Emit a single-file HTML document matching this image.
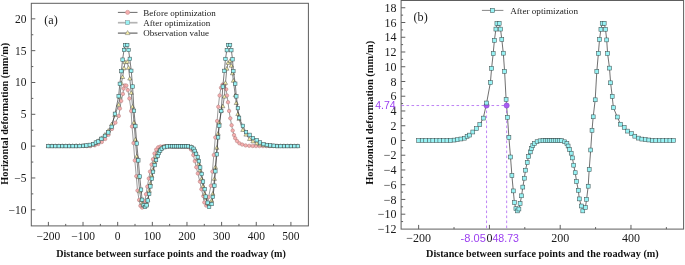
<!DOCTYPE html>
<html><head><meta charset="utf-8"><style>
html,body{margin:0;padding:0;background:#fff;}
body{width:685px;height:265px;overflow:hidden;}
svg{display:block;filter:blur(0.35px);}
.tk{font-family:"Liberation Serif",serif;font-size:11.5px;fill:#1a1a1a;}
.tk2{font-family:"Liberation Serif",serif;font-size:12px;fill:#1a1a1a;}
.lab{font-family:"Liberation Serif",serif;font-size:10px;font-weight:bold;fill:#111;}
.lg{font-family:"Liberation Serif",serif;font-size:9px;fill:#1a1a1a;}
.pv{font-family:"Liberation Sans",sans-serif;font-size:10.5px;fill:#9b3ff0;}
</style></head><body>
<svg width="685" height="265" viewBox="0 0 685 265">
<rect width="685" height="265" fill="#fff"/>
<rect x="31.3" y="3.3" width="277.09999999999997" height="222.6" fill="none" stroke="#5e5e5e" stroke-width="1.0"/><path d="M48.39,225.9v-4.0M65.71,225.9v-2.0M83.03,225.9v-4.0M100.36,225.9v-2.0M117.68,225.9v-4.0M135.00,225.9v-2.0M152.33,225.9v-4.0M169.65,225.9v-2.0M186.97,225.9v-4.0M204.30,225.9v-2.0M221.62,225.9v-4.0M238.94,225.9v-2.0M256.26,225.9v-4.0M273.59,225.9v-2.0M290.91,225.9v-4.0M31.3,209.79h4.0M31.3,193.88h2.0M31.3,177.96h4.0M31.3,162.05h2.0M31.3,146.14h4.0M31.3,130.23h2.0M31.3,114.31h4.0M31.3,98.40h2.0M31.3,82.49h4.0M31.3,66.58h2.0M31.3,50.66h4.0M31.3,34.75h2.0M31.3,18.84h4.0" stroke="#5e5e5e" stroke-width="1" fill="none"/><text x="26.6" y="213.69" text-anchor="end" class="tk">−10</text><text x="26.6" y="181.86" text-anchor="end" class="tk">−5</text><text x="26.6" y="150.04" text-anchor="end" class="tk">0</text><text x="26.6" y="118.21" text-anchor="end" class="tk">5</text><text x="26.6" y="86.39" text-anchor="end" class="tk">10</text><text x="26.6" y="54.56" text-anchor="end" class="tk">15</text><text x="26.6" y="22.74" text-anchor="end" class="tk">20</text><text x="48.39" y="239.7" text-anchor="middle" class="tk">−200</text><text x="83.03" y="239.7" text-anchor="middle" class="tk">−100</text><text x="117.68" y="239.7" text-anchor="middle" class="tk">0</text><text x="152.33" y="239.7" text-anchor="middle" class="tk">100</text><text x="186.97" y="239.7" text-anchor="middle" class="tk">200</text><text x="221.62" y="239.7" text-anchor="middle" class="tk">300</text><text x="256.26" y="239.7" text-anchor="middle" class="tk">400</text><text x="290.91" y="239.7" text-anchor="middle" class="tk">500</text><text x="56.3" y="256.6" class="lab" textLength="229.5" lengthAdjust="spacingAndGlyphs">Distance between surface points and the roadway (m)</text><text transform="translate(7.8,184.7) rotate(-90)" class="lab" textLength="141.8" lengthAdjust="spacingAndGlyphs">Horizontal deformation (mm/m)</text><text x="44.3" y="23.8" class="tk" style="font-size:12px" textLength="13.5" lengthAdjust="spacingAndGlyphs">(a)</text>
<polyline points="48.70,146.10 52.16,146.10 55.63,146.10 59.09,146.10 62.55,146.10 66.02,146.10 69.48,146.10 72.94,146.10 76.40,146.10 79.87,146.10 83.33,146.10 86.79,146.10 90.26,146.10 94.80,145.30 98.30,144.00 101.80,142.00 105.20,139.00 108.50,134.80 112.00,128.90 115.40,122.70 118.80,115.90 119.90,108.50 121.20,100.90 122.90,93.90 123.60,88.60 124.80,85.50 126.30,85.60 127.80,90.10 129.40,98.50 131.10,111.00 132.00,126.40 133.50,143.10 134.80,160.40 136.30,176.20 137.50,190.60 139.10,200.00 140.40,205.80 142.10,207.60 143.60,205.50 145.00,201.20 146.00,194.20 147.30,186.60 148.80,178.50 150.00,171.60 151.60,164.60 153.00,159.20 154.50,153.50 156.20,149.60 158.20,147.30 160.50,146.50 163.50,146.30 166.50,146.30 169.50,146.30 172.50,146.30 175.50,146.30 178.50,146.30 181.50,146.30 184.50,146.30 187.50,146.30 188.50,146.80 191.00,149.50 193.30,155.10 194.80,161.10 196.30,167.20 197.80,173.40 199.90,181.60 201.40,189.20 203.30,196.10 204.30,202.40 206.20,205.60 207.60,203.50 208.60,197.10 210.90,185.80 212.40,171.60 213.80,155.00 215.30,137.40 217.10,121.10 218.30,106.80 219.60,95.50 221.00,87.80 222.60,84.60 224.40,85.20 226.20,89.30 227.00,95.50 228.00,102.20 229.10,111.00 230.30,118.30 231.60,125.20 232.70,130.60 234.00,135.10 235.20,138.20 237.00,141.10 239.40,143.30 242.20,144.60 245.60,145.40 249.20,145.80 252.70,146.00 256.00,146.10 259.46,146.10 262.93,146.10 266.39,146.10 269.85,146.10 273.32,146.10 276.78,146.10 280.24,146.10 283.70,146.10 287.17,146.10 290.63,146.10 294.09,146.10 297.56,146.10" fill="none" stroke="#555" stroke-width="0.6"/><g fill="#f5aeae" stroke="#b07a7a" stroke-width="0.5"><circle cx="48.70" cy="146.10" r="1.75"/><circle cx="52.16" cy="146.10" r="1.75"/><circle cx="55.63" cy="146.10" r="1.75"/><circle cx="59.09" cy="146.10" r="1.75"/><circle cx="62.55" cy="146.10" r="1.75"/><circle cx="66.02" cy="146.10" r="1.75"/><circle cx="69.48" cy="146.10" r="1.75"/><circle cx="72.94" cy="146.10" r="1.75"/><circle cx="76.40" cy="146.10" r="1.75"/><circle cx="79.87" cy="146.10" r="1.75"/><circle cx="83.33" cy="146.10" r="1.75"/><circle cx="86.79" cy="146.10" r="1.75"/><circle cx="90.26" cy="146.10" r="1.75"/><circle cx="94.80" cy="145.30" r="1.75"/><circle cx="98.30" cy="144.00" r="1.75"/><circle cx="101.80" cy="142.00" r="1.75"/><circle cx="105.20" cy="139.00" r="1.75"/><circle cx="108.50" cy="134.80" r="1.75"/><circle cx="112.00" cy="128.90" r="1.75"/><circle cx="115.40" cy="122.70" r="1.75"/><circle cx="118.80" cy="115.90" r="1.75"/><circle cx="119.90" cy="108.50" r="1.75"/><circle cx="121.20" cy="100.90" r="1.75"/><circle cx="122.90" cy="93.90" r="1.75"/><circle cx="123.60" cy="88.60" r="1.75"/><circle cx="124.80" cy="85.50" r="1.75"/><circle cx="126.30" cy="85.60" r="1.75"/><circle cx="127.80" cy="90.10" r="1.75"/><circle cx="129.40" cy="98.50" r="1.75"/><circle cx="131.10" cy="111.00" r="1.75"/><circle cx="132.00" cy="126.40" r="1.75"/><circle cx="133.50" cy="143.10" r="1.75"/><circle cx="134.80" cy="160.40" r="1.75"/><circle cx="136.30" cy="176.20" r="1.75"/><circle cx="137.50" cy="190.60" r="1.75"/><circle cx="139.10" cy="200.00" r="1.75"/><circle cx="140.40" cy="205.80" r="1.75"/><circle cx="142.10" cy="207.60" r="1.75"/><circle cx="143.60" cy="205.50" r="1.75"/><circle cx="145.00" cy="201.20" r="1.75"/><circle cx="146.00" cy="194.20" r="1.75"/><circle cx="147.30" cy="186.60" r="1.75"/><circle cx="148.80" cy="178.50" r="1.75"/><circle cx="150.00" cy="171.60" r="1.75"/><circle cx="151.60" cy="164.60" r="1.75"/><circle cx="153.00" cy="159.20" r="1.75"/><circle cx="154.50" cy="153.50" r="1.75"/><circle cx="156.20" cy="149.60" r="1.75"/><circle cx="158.20" cy="147.30" r="1.75"/><circle cx="160.50" cy="146.50" r="1.75"/><circle cx="163.50" cy="146.30" r="1.75"/><circle cx="166.50" cy="146.30" r="1.75"/><circle cx="169.50" cy="146.30" r="1.75"/><circle cx="172.50" cy="146.30" r="1.75"/><circle cx="175.50" cy="146.30" r="1.75"/><circle cx="178.50" cy="146.30" r="1.75"/><circle cx="181.50" cy="146.30" r="1.75"/><circle cx="184.50" cy="146.30" r="1.75"/><circle cx="187.50" cy="146.30" r="1.75"/><circle cx="188.50" cy="146.80" r="1.75"/><circle cx="191.00" cy="149.50" r="1.75"/><circle cx="193.30" cy="155.10" r="1.75"/><circle cx="194.80" cy="161.10" r="1.75"/><circle cx="196.30" cy="167.20" r="1.75"/><circle cx="197.80" cy="173.40" r="1.75"/><circle cx="199.90" cy="181.60" r="1.75"/><circle cx="201.40" cy="189.20" r="1.75"/><circle cx="203.30" cy="196.10" r="1.75"/><circle cx="204.30" cy="202.40" r="1.75"/><circle cx="206.20" cy="205.60" r="1.75"/><circle cx="207.60" cy="203.50" r="1.75"/><circle cx="208.60" cy="197.10" r="1.75"/><circle cx="210.90" cy="185.80" r="1.75"/><circle cx="212.40" cy="171.60" r="1.75"/><circle cx="213.80" cy="155.00" r="1.75"/><circle cx="215.30" cy="137.40" r="1.75"/><circle cx="217.10" cy="121.10" r="1.75"/><circle cx="218.30" cy="106.80" r="1.75"/><circle cx="219.60" cy="95.50" r="1.75"/><circle cx="221.00" cy="87.80" r="1.75"/><circle cx="222.60" cy="84.60" r="1.75"/><circle cx="224.40" cy="85.20" r="1.75"/><circle cx="226.20" cy="89.30" r="1.75"/><circle cx="227.00" cy="95.50" r="1.75"/><circle cx="228.00" cy="102.20" r="1.75"/><circle cx="229.10" cy="111.00" r="1.75"/><circle cx="230.30" cy="118.30" r="1.75"/><circle cx="231.60" cy="125.20" r="1.75"/><circle cx="232.70" cy="130.60" r="1.75"/><circle cx="234.00" cy="135.10" r="1.75"/><circle cx="235.20" cy="138.20" r="1.75"/><circle cx="237.00" cy="141.10" r="1.75"/><circle cx="239.40" cy="143.30" r="1.75"/><circle cx="242.20" cy="144.60" r="1.75"/><circle cx="245.60" cy="145.40" r="1.75"/><circle cx="249.20" cy="145.80" r="1.75"/><circle cx="252.70" cy="146.00" r="1.75"/><circle cx="256.00" cy="146.10" r="1.75"/><circle cx="259.46" cy="146.10" r="1.75"/><circle cx="262.93" cy="146.10" r="1.75"/><circle cx="266.39" cy="146.10" r="1.75"/><circle cx="269.85" cy="146.10" r="1.75"/><circle cx="273.32" cy="146.10" r="1.75"/><circle cx="276.78" cy="146.10" r="1.75"/><circle cx="280.24" cy="146.10" r="1.75"/><circle cx="283.70" cy="146.10" r="1.75"/><circle cx="287.17" cy="146.10" r="1.75"/><circle cx="290.63" cy="146.10" r="1.75"/><circle cx="294.09" cy="146.10" r="1.75"/><circle cx="297.56" cy="146.10" r="1.75"/></g><polyline points="48.39,146.09 51.85,146.08 55.32,146.07 58.78,146.05 62.25,146.03 65.71,146.00 69.18,145.97 72.64,145.93 76.10,145.88 79.57,145.82 83.11,145.76 86.44,145.69 89.77,145.61 93.10,144.64 95.84,142.83 98.29,141.01 101.42,138.16 104.94,134.79 108.27,130.83 111.70,124.43 114.93,115.19 118.65,104.81 119.82,97.00 121.39,83.27 122.57,77.18 124.03,68.34 125.01,62.28 127.26,61.93 128.54,67.85 129.81,78.68 131.28,92.98 132.55,106.79 134.02,122.60 135.39,139.67 136.76,156.44 138.33,177.22 139.70,191.38 141.07,199.92 142.14,203.32 143.61,205.84 145.08,205.85 146.55,204.53 147.72,199.98 149.19,190.83 150.37,183.75 151.84,175.87 153.01,169.80 154.68,161.99 156.05,156.87 157.71,152.88 158.89,150.92 160.16,149.22 161.82,147.80 164.37,146.57 167.30,146.50 170.14,146.50 172.30,146.50 174.26,146.50 176.21,146.50 178.17,146.50 180.13,146.50 182.09,146.50 184.04,146.50 186.00,146.50 188.06,146.50 191.39,146.90 193.54,148.52 194.72,150.31 196.09,153.20 197.75,158.87 198.93,163.89 200.20,170.37 201.67,178.92 203.04,186.45 204.70,194.12 205.68,197.96 207.64,203.46 209.11,204.45 211.65,200.65 212.83,193.82 214.39,178.97 215.37,167.26 216.84,147.91 218.11,133.73 219.29,122.71 221.25,110.50 222.81,106.35 224.38,96.74 225.46,83.01 226.83,68.81 228.10,62.95 230.06,61.04 231.33,65.76 232.50,73.39 233.39,80.89 235.25,95.36 236.32,103.13 237.89,114.18 239.06,118.95 242.88,130.04 246.01,134.73 249.64,139.09 252.96,141.50 256.68,143.32 260.01,144.42 263.54,145.23 266.87,145.66 270.19,145.94 273.72,146.01 277.05,146.04 280.52,146.06 283.98,146.07 287.45,146.08 290.91,146.09 294.37,146.10 297.84,146.10" fill="none" stroke="#333" stroke-width="0.6"/><g fill="#f8f0a8" stroke="#555" stroke-width="0.5"><path d="M48.39,143.84L50.49,147.47L46.29,147.47Z"/><path d="M51.85,143.83L53.95,147.47L49.75,147.47Z"/><path d="M55.32,143.82L57.42,147.45L53.22,147.45Z"/><path d="M58.78,143.80L60.88,147.44L56.68,147.44Z"/><path d="M62.25,143.78L64.35,147.41L60.15,147.41Z"/><path d="M65.71,143.75L67.81,147.39L63.61,147.39Z"/><path d="M69.18,143.71L71.28,147.35L67.08,147.35Z"/><path d="M72.64,143.67L74.74,147.31L70.54,147.31Z"/><path d="M76.10,143.62L78.20,147.26L74.00,147.26Z"/><path d="M79.57,143.57L81.67,147.21L77.47,147.21Z"/><path d="M83.11,143.50L85.21,147.14L81.01,147.14Z"/><path d="M86.44,143.43L88.54,147.07L84.34,147.07Z"/><path d="M89.77,143.35L91.87,146.99L87.67,146.99Z"/><path d="M93.10,142.39L95.20,146.02L91.00,146.02Z"/><path d="M95.84,140.57L97.94,144.21L93.74,144.21Z"/><path d="M98.29,138.75L100.39,142.39L96.19,142.39Z"/><path d="M101.42,135.91L103.52,139.55L99.32,139.55Z"/><path d="M104.94,132.53L107.04,136.17L102.84,136.17Z"/><path d="M108.27,128.57L110.37,132.21L106.17,132.21Z"/><path d="M111.70,122.18L113.80,125.81L109.60,125.81Z"/><path d="M114.93,112.94L117.03,116.57L112.83,116.57Z"/><path d="M118.65,102.56L120.75,106.19L116.55,106.19Z"/><path d="M119.82,94.74L121.92,98.38L117.72,98.38Z"/><path d="M121.39,81.01L123.49,84.65L119.29,84.65Z"/><path d="M122.57,74.93L124.67,78.56L120.47,78.56Z"/><path d="M124.03,66.09L126.13,69.72L121.93,69.72Z"/><path d="M125.01,60.02L127.11,63.66L122.91,63.66Z"/><path d="M127.26,59.68L129.36,63.31L125.16,63.31Z"/><path d="M128.54,65.60L130.64,69.24L126.44,69.24Z"/><path d="M129.81,76.42L131.91,80.06L127.71,80.06Z"/><path d="M131.28,90.73L133.38,94.37L129.18,94.37Z"/><path d="M132.55,104.54L134.65,108.17L130.45,108.17Z"/><path d="M134.02,120.34L136.12,123.98L131.92,123.98Z"/><path d="M135.39,137.42L137.49,141.06L133.29,141.06Z"/><path d="M136.76,154.18L138.86,157.82L134.66,157.82Z"/><path d="M138.33,174.96L140.43,178.60L136.23,178.60Z"/><path d="M139.70,189.13L141.80,192.77L137.60,192.77Z"/><path d="M141.07,197.66L143.17,201.30L138.97,201.30Z"/><path d="M142.14,201.06L144.24,204.70L140.04,204.70Z"/><path d="M143.61,203.58L145.71,207.22L141.51,207.22Z"/><path d="M145.08,203.59L147.18,207.23L142.98,207.23Z"/><path d="M146.55,202.28L148.65,205.92L144.45,205.92Z"/><path d="M147.72,197.72L149.82,201.36L145.62,201.36Z"/><path d="M149.19,188.58L151.29,192.21L147.09,192.21Z"/><path d="M150.37,181.50L152.47,185.13L148.27,185.13Z"/><path d="M151.84,173.61L153.94,177.25L149.74,177.25Z"/><path d="M153.01,167.54L155.11,171.18L150.91,171.18Z"/><path d="M154.68,159.74L156.78,163.37L152.58,163.37Z"/><path d="M156.05,154.61L158.15,158.25L153.95,158.25Z"/><path d="M157.71,150.62L159.81,154.26L155.61,154.26Z"/><path d="M158.89,148.66L160.99,152.30L156.79,152.30Z"/><path d="M160.16,146.97L162.26,150.61L158.06,150.61Z"/><path d="M161.82,145.54L163.92,149.18L159.72,149.18Z"/><path d="M164.37,144.31L166.47,147.95L162.27,147.95Z"/><path d="M167.30,144.24L169.40,147.88L165.20,147.88Z"/><path d="M170.14,144.24L172.24,147.88L168.04,147.88Z"/><path d="M172.30,144.24L174.40,147.88L170.20,147.88Z"/><path d="M174.26,144.24L176.36,147.88L172.16,147.88Z"/><path d="M176.21,144.24L178.31,147.88L174.11,147.88Z"/><path d="M178.17,144.24L180.27,147.88L176.07,147.88Z"/><path d="M180.13,144.24L182.23,147.88L178.03,147.88Z"/><path d="M182.09,144.24L184.19,147.88L179.99,147.88Z"/><path d="M184.04,144.24L186.14,147.88L181.94,147.88Z"/><path d="M186.00,144.24L188.10,147.88L183.90,147.88Z"/><path d="M188.06,144.24L190.16,147.88L185.96,147.88Z"/><path d="M191.39,144.65L193.49,148.28L189.29,148.28Z"/><path d="M193.54,146.27L195.64,149.91L191.44,149.91Z"/><path d="M194.72,148.05L196.82,151.69L192.62,151.69Z"/><path d="M196.09,150.95L198.19,154.59L193.99,154.59Z"/><path d="M197.75,156.62L199.85,160.26L195.65,160.26Z"/><path d="M198.93,161.63L201.03,165.27L196.83,165.27Z"/><path d="M200.20,168.11L202.30,171.75L198.10,171.75Z"/><path d="M201.67,176.67L203.77,180.31L199.57,180.31Z"/><path d="M203.04,184.20L205.14,187.84L200.94,187.84Z"/><path d="M204.70,191.87L206.80,195.50L202.60,195.50Z"/><path d="M205.68,195.70L207.78,199.34L203.58,199.34Z"/><path d="M207.64,201.20L209.74,204.84L205.54,204.84Z"/><path d="M209.11,202.20L211.21,205.83L207.01,205.83Z"/><path d="M211.65,198.40L213.75,202.03L209.55,202.03Z"/><path d="M212.83,191.57L214.93,195.20L210.73,195.20Z"/><path d="M214.39,176.72L216.49,180.35L212.29,180.35Z"/><path d="M215.37,165.01L217.47,168.64L213.27,168.64Z"/><path d="M216.84,145.65L218.94,149.29L214.74,149.29Z"/><path d="M218.11,131.47L220.21,135.11L216.01,135.11Z"/><path d="M219.29,120.45L221.39,124.09L217.19,124.09Z"/><path d="M221.25,108.24L223.35,111.88L219.15,111.88Z"/><path d="M222.81,104.10L224.91,107.73L220.71,107.73Z"/><path d="M224.38,94.48L226.48,98.12L222.28,98.12Z"/><path d="M225.46,80.75L227.56,84.39L223.36,84.39Z"/><path d="M226.83,66.56L228.93,70.19L224.73,70.19Z"/><path d="M228.10,60.69L230.20,64.33L226.00,64.33Z"/><path d="M230.06,58.79L232.16,62.43L227.96,62.43Z"/><path d="M231.33,63.51L233.43,67.15L229.23,67.15Z"/><path d="M232.50,71.14L234.60,74.77L230.40,74.77Z"/><path d="M233.39,78.63L235.49,82.27L231.29,82.27Z"/><path d="M235.25,93.11L237.35,96.74L233.15,96.74Z"/><path d="M236.32,100.87L238.42,104.51L234.22,104.51Z"/><path d="M237.89,111.92L239.99,115.56L235.79,115.56Z"/><path d="M239.06,116.69L241.16,120.33L236.96,120.33Z"/><path d="M242.88,127.78L244.98,131.42L240.78,131.42Z"/><path d="M246.01,132.48L248.11,136.12L243.91,136.12Z"/><path d="M249.64,136.84L251.74,140.48L247.54,140.48Z"/><path d="M252.96,139.24L255.06,142.88L250.86,142.88Z"/><path d="M256.68,141.07L258.78,144.71L254.58,144.71Z"/><path d="M260.01,142.17L262.11,145.80L257.91,145.80Z"/><path d="M263.54,142.98L265.64,146.62L261.44,146.62Z"/><path d="M266.87,143.40L268.97,147.04L264.77,147.04Z"/><path d="M270.19,143.69L272.29,147.32L268.09,147.32Z"/><path d="M273.72,143.76L275.82,147.40L271.62,147.40Z"/><path d="M277.05,143.78L279.15,147.42L274.95,147.42Z"/><path d="M280.52,143.80L282.62,147.44L278.42,147.44Z"/><path d="M283.98,143.82L286.08,147.45L281.88,147.45Z"/><path d="M287.45,143.83L289.55,147.47L285.35,147.47Z"/><path d="M290.91,143.84L293.01,147.47L288.81,147.47Z"/><path d="M294.37,143.84L296.47,147.48L292.27,147.48Z"/><path d="M297.84,143.84L299.94,147.48L295.74,147.48Z"/></g><polyline points="48.39,146.14 51.85,146.14 55.32,146.14 58.78,146.14 62.25,146.14 65.71,146.14 69.18,146.14 72.64,146.14 76.10,146.14 79.57,146.08 83.11,145.82 86.44,145.48 89.77,144.87 93.10,144.18 95.84,142.54 98.29,141.50 101.42,138.83 104.94,135.89 108.27,132.44 111.70,126.83 114.93,113.79 118.65,96.18 119.82,83.84 121.39,71.15 122.57,59.66 124.03,50.00 125.01,45.25 127.26,44.99 128.54,50.00 129.81,58.89 131.28,70.80 132.55,86.51 134.02,110.77 135.39,126.14 136.76,143.49 138.33,160.41 139.70,176.47 141.07,189.68 142.14,199.78 143.61,205.04 145.08,206.94 146.55,205.30 147.72,200.47 149.19,193.91 150.37,186.39 151.84,178.71 153.01,171.81 154.68,165.07 156.05,160.06 157.71,156.01 158.89,153.07 160.16,150.57 161.82,148.67 164.37,147.20 167.30,146.42 170.14,146.17 172.30,146.25 174.26,146.25 176.21,146.25 178.17,146.25 180.13,146.25 182.09,146.25 184.04,146.25 186.00,146.25 188.06,146.25 191.39,147.29 193.54,148.76 194.72,150.91 196.09,153.85 197.75,157.13 198.93,161.19 200.20,167.49 201.67,173.96 203.04,181.56 204.70,189.16 205.68,196.58 207.64,202.71 209.11,206.94 211.65,204.01 212.83,196.93 214.39,185.62 215.37,171.29 216.84,154.37 218.11,137.36 219.29,125.71 221.25,111.03 222.81,86.60 224.38,70.89 225.46,58.97 226.83,50.17 228.10,44.99 230.06,44.99 231.33,50.17 232.50,59.32 233.39,71.06 235.25,83.66 236.32,96.35 237.89,108.10 239.06,117.85 242.88,125.88 246.01,132.09 249.64,134.86 252.96,138.05 256.68,140.21 260.01,142.45 263.54,144.09 266.87,144.96 270.19,145.39 273.72,145.73 277.05,146.14 280.52,146.14 283.98,146.14 287.45,146.14 290.91,146.14 294.37,146.14 297.84,146.14" fill="none" stroke="#222" stroke-width="0.6"/><g fill="#98f3f5" stroke="#405252" stroke-width="0.55"><rect x="46.66" y="144.41" width="3.45" height="3.45"/><rect x="50.13" y="144.41" width="3.45" height="3.45"/><rect x="53.59" y="144.41" width="3.45" height="3.45"/><rect x="57.06" y="144.41" width="3.45" height="3.45"/><rect x="60.52" y="144.41" width="3.45" height="3.45"/><rect x="63.99" y="144.41" width="3.45" height="3.45"/><rect x="67.45" y="144.41" width="3.45" height="3.45"/><rect x="70.92" y="144.41" width="3.45" height="3.45"/><rect x="74.38" y="144.41" width="3.45" height="3.45"/><rect x="77.84" y="144.35" width="3.45" height="3.45"/><rect x="81.39" y="144.10" width="3.45" height="3.45"/><rect x="84.72" y="143.75" width="3.45" height="3.45"/><rect x="88.04" y="143.15" width="3.45" height="3.45"/><rect x="91.37" y="142.46" width="3.45" height="3.45"/><rect x="94.11" y="140.82" width="3.45" height="3.45"/><rect x="96.56" y="139.78" width="3.45" height="3.45"/><rect x="99.69" y="137.10" width="3.45" height="3.45"/><rect x="103.22" y="134.17" width="3.45" height="3.45"/><rect x="106.55" y="130.71" width="3.45" height="3.45"/><rect x="109.97" y="125.10" width="3.45" height="3.45"/><rect x="113.20" y="112.07" width="3.45" height="3.45"/><rect x="116.92" y="94.46" width="3.45" height="3.45"/><rect x="118.10" y="82.11" width="3.45" height="3.45"/><rect x="119.67" y="69.42" width="3.45" height="3.45"/><rect x="120.84" y="57.94" width="3.45" height="3.45"/><rect x="122.31" y="48.27" width="3.45" height="3.45"/><rect x="123.29" y="43.52" width="3.45" height="3.45"/><rect x="125.54" y="43.26" width="3.45" height="3.45"/><rect x="126.81" y="48.27" width="3.45" height="3.45"/><rect x="128.08" y="57.16" width="3.45" height="3.45"/><rect x="129.55" y="69.08" width="3.45" height="3.45"/><rect x="130.83" y="84.79" width="3.45" height="3.45"/><rect x="132.29" y="109.05" width="3.45" height="3.45"/><rect x="133.66" y="124.41" width="3.45" height="3.45"/><rect x="135.04" y="141.76" width="3.45" height="3.45"/><rect x="136.60" y="158.69" width="3.45" height="3.45"/><rect x="137.97" y="174.74" width="3.45" height="3.45"/><rect x="139.34" y="187.95" width="3.45" height="3.45"/><rect x="140.42" y="198.05" width="3.45" height="3.45"/><rect x="141.89" y="203.32" width="3.45" height="3.45"/><rect x="143.36" y="205.22" width="3.45" height="3.45"/><rect x="144.83" y="203.58" width="3.45" height="3.45"/><rect x="146.00" y="198.74" width="3.45" height="3.45"/><rect x="147.47" y="192.18" width="3.45" height="3.45"/><rect x="148.64" y="184.67" width="3.45" height="3.45"/><rect x="150.11" y="176.99" width="3.45" height="3.45"/><rect x="151.29" y="170.08" width="3.45" height="3.45"/><rect x="152.95" y="163.35" width="3.45" height="3.45"/><rect x="154.32" y="158.34" width="3.45" height="3.45"/><rect x="155.99" y="154.28" width="3.45" height="3.45"/><rect x="157.16" y="151.35" width="3.45" height="3.45"/><rect x="158.43" y="148.84" width="3.45" height="3.45"/><rect x="160.10" y="146.94" width="3.45" height="3.45"/><rect x="162.64" y="145.48" width="3.45" height="3.45"/><rect x="165.58" y="144.70" width="3.45" height="3.45"/><rect x="168.42" y="144.44" width="3.45" height="3.45"/><rect x="170.57" y="144.53" width="3.45" height="3.45"/><rect x="172.53" y="144.53" width="3.45" height="3.45"/><rect x="174.49" y="144.53" width="3.45" height="3.45"/><rect x="176.45" y="144.53" width="3.45" height="3.45"/><rect x="178.40" y="144.53" width="3.45" height="3.45"/><rect x="180.36" y="144.53" width="3.45" height="3.45"/><rect x="182.32" y="144.53" width="3.45" height="3.45"/><rect x="184.28" y="144.53" width="3.45" height="3.45"/><rect x="186.33" y="144.53" width="3.45" height="3.45"/><rect x="189.66" y="145.56" width="3.45" height="3.45"/><rect x="191.82" y="147.03" width="3.45" height="3.45"/><rect x="192.99" y="149.19" width="3.45" height="3.45"/><rect x="194.36" y="152.12" width="3.45" height="3.45"/><rect x="196.03" y="155.40" width="3.45" height="3.45"/><rect x="197.20" y="159.46" width="3.45" height="3.45"/><rect x="198.47" y="165.76" width="3.45" height="3.45"/><rect x="199.94" y="172.24" width="3.45" height="3.45"/><rect x="201.31" y="179.84" width="3.45" height="3.45"/><rect x="202.98" y="187.43" width="3.45" height="3.45"/><rect x="203.96" y="194.86" width="3.45" height="3.45"/><rect x="205.91" y="200.99" width="3.45" height="3.45"/><rect x="207.38" y="205.22" width="3.45" height="3.45"/><rect x="209.93" y="202.28" width="3.45" height="3.45"/><rect x="211.10" y="195.20" width="3.45" height="3.45"/><rect x="212.67" y="183.89" width="3.45" height="3.45"/><rect x="213.65" y="169.56" width="3.45" height="3.45"/><rect x="215.12" y="152.64" width="3.45" height="3.45"/><rect x="216.39" y="135.64" width="3.45" height="3.45"/><rect x="217.56" y="123.98" width="3.45" height="3.45"/><rect x="219.52" y="109.31" width="3.45" height="3.45"/><rect x="221.09" y="84.87" width="3.45" height="3.45"/><rect x="222.65" y="69.16" width="3.45" height="3.45"/><rect x="223.73" y="57.25" width="3.45" height="3.45"/><rect x="225.10" y="48.44" width="3.45" height="3.45"/><rect x="226.37" y="43.26" width="3.45" height="3.45"/><rect x="228.33" y="43.26" width="3.45" height="3.45"/><rect x="229.60" y="48.44" width="3.45" height="3.45"/><rect x="230.78" y="57.59" width="3.45" height="3.45"/><rect x="231.66" y="69.34" width="3.45" height="3.45"/><rect x="233.52" y="81.94" width="3.45" height="3.45"/><rect x="234.60" y="94.63" width="3.45" height="3.45"/><rect x="236.16" y="106.37" width="3.45" height="3.45"/><rect x="237.34" y="116.13" width="3.45" height="3.45"/><rect x="241.16" y="124.15" width="3.45" height="3.45"/><rect x="244.29" y="130.37" width="3.45" height="3.45"/><rect x="247.91" y="133.13" width="3.45" height="3.45"/><rect x="251.24" y="136.33" width="3.45" height="3.45"/><rect x="254.96" y="138.48" width="3.45" height="3.45"/><rect x="258.29" y="140.73" width="3.45" height="3.45"/><rect x="261.81" y="142.37" width="3.45" height="3.45"/><rect x="265.14" y="143.23" width="3.45" height="3.45"/><rect x="268.47" y="143.66" width="3.45" height="3.45"/><rect x="271.99" y="144.01" width="3.45" height="3.45"/><rect x="275.33" y="144.41" width="3.45" height="3.45"/><rect x="278.79" y="144.41" width="3.45" height="3.45"/><rect x="282.26" y="144.41" width="3.45" height="3.45"/><rect x="285.72" y="144.41" width="3.45" height="3.45"/><rect x="289.18" y="144.41" width="3.45" height="3.45"/><rect x="292.65" y="144.41" width="3.45" height="3.45"/><rect x="296.11" y="144.41" width="3.45" height="3.45"/></g>
<rect x="401.1" y="0.5" width="282.5" height="228.6" fill="none" stroke="#5e5e5e" stroke-width="1.0"/><path d="M418.63,229.1v-4.2M454.02,229.1v-2.0M489.41,229.1v-4.2M524.80,229.1v-2.0M560.19,229.1v-4.2M595.58,229.1v-2.0M630.97,229.1v-4.2M666.36,229.1v-2.0M401.1,221.57h2.0M401.1,214.20h4.2M401.1,206.83h2.0M401.1,199.45h4.2M401.1,192.08h2.0M401.1,184.71h4.2M401.1,177.34h2.0M401.1,169.96h4.2M401.1,162.59h2.0M401.1,155.22h4.2M401.1,147.84h2.0M401.1,140.47h4.2M401.1,133.10h2.0M401.1,125.72h4.2M401.1,118.35h2.0M401.1,110.98h4.2M401.1,103.60h2.0M401.1,96.23h4.2M401.1,88.86h2.0M401.1,81.49h4.2M401.1,74.11h2.0M401.1,66.74h4.2M401.1,59.37h2.0M401.1,51.99h4.2M401.1,44.62h2.0M401.1,37.25h4.2M401.1,29.88h2.0M401.1,22.50h4.2M401.1,15.13h2.0M401.1,7.76h4.2" stroke="#5e5e5e" stroke-width="1" fill="none"/><text x="396.5" y="233.05" text-anchor="end" class="tk2">−12</text><text x="396.5" y="218.30" text-anchor="end" class="tk2">−10</text><text x="396.5" y="203.55" text-anchor="end" class="tk2">−8</text><text x="396.5" y="188.81" text-anchor="end" class="tk2">−6</text><text x="396.5" y="174.06" text-anchor="end" class="tk2">−4</text><text x="396.5" y="159.32" text-anchor="end" class="tk2">−2</text><text x="396.5" y="144.57" text-anchor="end" class="tk2">0</text><text x="396.5" y="129.82" text-anchor="end" class="tk2">2</text><text x="396.5" y="115.08" text-anchor="end" class="tk2">4</text><text x="396.5" y="100.33" text-anchor="end" class="tk2">6</text><text x="396.5" y="85.59" text-anchor="end" class="tk2">8</text><text x="396.5" y="70.84" text-anchor="end" class="tk2">10</text><text x="396.5" y="56.09" text-anchor="end" class="tk2">12</text><text x="396.5" y="41.35" text-anchor="end" class="tk2">14</text><text x="396.5" y="26.60" text-anchor="end" class="tk2">16</text><text x="396.5" y="11.86" text-anchor="end" class="tk2">18</text><text x="418.63" y="242.3" text-anchor="middle" class="tk2">−200</text><text x="489.41" y="242.3" text-anchor="middle" class="tk2">0</text><text x="560.19" y="242.3" text-anchor="middle" class="tk2">200</text><text x="630.97" y="242.3" text-anchor="middle" class="tk2">400</text><text x="426.0" y="257.4" class="lab" textLength="232.7" lengthAdjust="spacingAndGlyphs">Distance between surface points and the roadway (m)</text><text transform="translate(372.6,184.8) rotate(-90)" class="lab" textLength="144.0" lengthAdjust="spacingAndGlyphs">Horizontal deformation (mm/m)</text><text x="413.5" y="20.5" class="tk" textLength="14.2" lengthAdjust="spacingAndGlyphs">(b)</text>
<polyline points="418.63,140.47 422.17,140.47 425.71,140.47 429.25,140.47 432.79,140.47 436.33,140.47 439.86,140.47 443.40,140.47 446.94,140.47 450.48,140.40 454.10,140.10 457.50,139.70 460.90,139.00 464.30,138.20 467.10,136.30 469.60,135.10 472.80,132.00 476.40,128.60 479.80,124.60 483.30,118.10 486.60,103.00 490.40,82.60 491.60,68.30 493.20,53.60 494.40,40.30 495.90,29.10 496.90,23.60 499.20,23.30 500.50,29.10 501.80,39.40 503.30,53.20 504.60,71.40 506.10,99.50 507.50,117.30 508.90,137.40 510.50,157.00 511.90,175.60 513.30,190.90 514.40,202.60 515.90,208.70 517.40,210.90 518.90,209.00 520.10,203.40 521.60,195.80 522.80,187.10 524.30,178.20 525.50,170.20 527.20,162.40 528.60,156.60 530.30,151.90 531.50,148.50 532.80,145.60 534.50,143.40 537.10,141.70 540.10,140.80 543.00,140.50 545.20,140.60 547.20,140.60 549.20,140.60 551.20,140.60 553.20,140.60 555.20,140.60 557.20,140.60 559.20,140.60 561.30,140.60 564.70,141.80 566.90,143.50 568.10,146.00 569.50,149.40 571.20,153.20 572.40,157.90 573.70,165.20 575.20,172.70 576.60,181.50 578.30,190.30 579.30,198.90 581.30,206.00 582.80,210.90 585.40,207.50 586.60,199.30 588.20,186.20 589.20,169.60 590.70,150.00 592.00,130.30 593.20,116.80 595.20,99.80 596.80,71.50 598.40,53.30 599.50,39.50 600.90,29.30 602.20,23.30 604.20,23.30 605.50,29.30 606.70,39.90 607.60,53.50 609.50,68.10 610.60,82.80 612.20,96.40 613.40,107.70 617.30,117.00 620.50,124.20 624.20,127.40 627.60,131.10 631.40,133.60 634.80,136.20 638.40,138.10 641.80,139.10 645.20,139.60 648.80,140.00 652.20,140.47 655.74,140.47 659.28,140.47 662.82,140.47 666.36,140.47 669.90,140.47 673.44,140.47" fill="none" stroke="#222" stroke-width="0.65"/>
<path d="M401.5,105.52H506.66M486.56,105.52V229M506.66,105.52V229" stroke="#9b3ff0" stroke-width="0.9" stroke-dasharray="2.6,2.4" fill="none" opacity="0.72"/><circle cx="486.56" cy="105.52" r="2.65" fill="#a85cf2" stroke="#7d45b8" stroke-width="0.4"/><circle cx="506.66" cy="105.52" r="2.65" fill="#a85cf2" stroke="#7d45b8" stroke-width="0.4"/><text x="375.2" y="109.0" class="pv" textLength="20.4" lengthAdjust="spacingAndGlyphs">4.74</text><text x="460.6" y="241.8" class="pv" textLength="25.2" lengthAdjust="spacingAndGlyphs">-8.05</text><text x="492.4" y="241.8" class="pv" textLength="26.6" lengthAdjust="spacingAndGlyphs">48.73</text>
<g fill="#98f3f5" stroke="#405252" stroke-width="0.55"><rect x="416.68" y="138.52" width="3.9" height="3.9"/><rect x="420.22" y="138.52" width="3.9" height="3.9"/><rect x="423.76" y="138.52" width="3.9" height="3.9"/><rect x="427.30" y="138.52" width="3.9" height="3.9"/><rect x="430.84" y="138.52" width="3.9" height="3.9"/><rect x="434.38" y="138.52" width="3.9" height="3.9"/><rect x="437.91" y="138.52" width="3.9" height="3.9"/><rect x="441.45" y="138.52" width="3.9" height="3.9"/><rect x="444.99" y="138.52" width="3.9" height="3.9"/><rect x="448.53" y="138.45" width="3.9" height="3.9"/><rect x="452.15" y="138.15" width="3.9" height="3.9"/><rect x="455.55" y="137.75" width="3.9" height="3.9"/><rect x="458.95" y="137.05" width="3.9" height="3.9"/><rect x="462.35" y="136.25" width="3.9" height="3.9"/><rect x="465.15" y="134.35" width="3.9" height="3.9"/><rect x="467.65" y="133.15" width="3.9" height="3.9"/><rect x="470.85" y="130.05" width="3.9" height="3.9"/><rect x="474.45" y="126.65" width="3.9" height="3.9"/><rect x="477.85" y="122.65" width="3.9" height="3.9"/><rect x="481.35" y="116.15" width="3.9" height="3.9"/><rect x="484.65" y="101.05" width="3.9" height="3.9"/><rect x="488.45" y="80.65" width="3.9" height="3.9"/><rect x="489.65" y="66.35" width="3.9" height="3.9"/><rect x="491.25" y="51.65" width="3.9" height="3.9"/><rect x="492.45" y="38.35" width="3.9" height="3.9"/><rect x="493.95" y="27.15" width="3.9" height="3.9"/><rect x="494.95" y="21.65" width="3.9" height="3.9"/><rect x="497.25" y="21.35" width="3.9" height="3.9"/><rect x="498.55" y="27.15" width="3.9" height="3.9"/><rect x="499.85" y="37.45" width="3.9" height="3.9"/><rect x="501.35" y="51.25" width="3.9" height="3.9"/><rect x="502.65" y="69.45" width="3.9" height="3.9"/><rect x="504.15" y="97.55" width="3.9" height="3.9"/><rect x="505.55" y="115.35" width="3.9" height="3.9"/><rect x="506.95" y="135.45" width="3.9" height="3.9"/><rect x="508.55" y="155.05" width="3.9" height="3.9"/><rect x="509.95" y="173.65" width="3.9" height="3.9"/><rect x="511.35" y="188.95" width="3.9" height="3.9"/><rect x="512.45" y="200.65" width="3.9" height="3.9"/><rect x="513.95" y="206.75" width="3.9" height="3.9"/><rect x="515.45" y="208.95" width="3.9" height="3.9"/><rect x="516.95" y="207.05" width="3.9" height="3.9"/><rect x="518.15" y="201.45" width="3.9" height="3.9"/><rect x="519.65" y="193.85" width="3.9" height="3.9"/><rect x="520.85" y="185.15" width="3.9" height="3.9"/><rect x="522.35" y="176.25" width="3.9" height="3.9"/><rect x="523.55" y="168.25" width="3.9" height="3.9"/><rect x="525.25" y="160.45" width="3.9" height="3.9"/><rect x="526.65" y="154.65" width="3.9" height="3.9"/><rect x="528.35" y="149.95" width="3.9" height="3.9"/><rect x="529.55" y="146.55" width="3.9" height="3.9"/><rect x="530.85" y="143.65" width="3.9" height="3.9"/><rect x="532.55" y="141.45" width="3.9" height="3.9"/><rect x="535.15" y="139.75" width="3.9" height="3.9"/><rect x="538.15" y="138.85" width="3.9" height="3.9"/><rect x="541.05" y="138.55" width="3.9" height="3.9"/><rect x="543.25" y="138.65" width="3.9" height="3.9"/><rect x="545.25" y="138.65" width="3.9" height="3.9"/><rect x="547.25" y="138.65" width="3.9" height="3.9"/><rect x="549.25" y="138.65" width="3.9" height="3.9"/><rect x="551.25" y="138.65" width="3.9" height="3.9"/><rect x="553.25" y="138.65" width="3.9" height="3.9"/><rect x="555.25" y="138.65" width="3.9" height="3.9"/><rect x="557.25" y="138.65" width="3.9" height="3.9"/><rect x="559.35" y="138.65" width="3.9" height="3.9"/><rect x="562.75" y="139.85" width="3.9" height="3.9"/><rect x="564.95" y="141.55" width="3.9" height="3.9"/><rect x="566.15" y="144.05" width="3.9" height="3.9"/><rect x="567.55" y="147.45" width="3.9" height="3.9"/><rect x="569.25" y="151.25" width="3.9" height="3.9"/><rect x="570.45" y="155.95" width="3.9" height="3.9"/><rect x="571.75" y="163.25" width="3.9" height="3.9"/><rect x="573.25" y="170.75" width="3.9" height="3.9"/><rect x="574.65" y="179.55" width="3.9" height="3.9"/><rect x="576.35" y="188.35" width="3.9" height="3.9"/><rect x="577.35" y="196.95" width="3.9" height="3.9"/><rect x="579.35" y="204.05" width="3.9" height="3.9"/><rect x="580.85" y="208.95" width="3.9" height="3.9"/><rect x="583.45" y="205.55" width="3.9" height="3.9"/><rect x="584.65" y="197.35" width="3.9" height="3.9"/><rect x="586.25" y="184.25" width="3.9" height="3.9"/><rect x="587.25" y="167.65" width="3.9" height="3.9"/><rect x="588.75" y="148.05" width="3.9" height="3.9"/><rect x="590.05" y="128.35" width="3.9" height="3.9"/><rect x="591.25" y="114.85" width="3.9" height="3.9"/><rect x="593.25" y="97.85" width="3.9" height="3.9"/><rect x="594.85" y="69.55" width="3.9" height="3.9"/><rect x="596.45" y="51.35" width="3.9" height="3.9"/><rect x="597.55" y="37.55" width="3.9" height="3.9"/><rect x="598.95" y="27.35" width="3.9" height="3.9"/><rect x="600.25" y="21.35" width="3.9" height="3.9"/><rect x="602.25" y="21.35" width="3.9" height="3.9"/><rect x="603.55" y="27.35" width="3.9" height="3.9"/><rect x="604.75" y="37.95" width="3.9" height="3.9"/><rect x="605.65" y="51.55" width="3.9" height="3.9"/><rect x="607.55" y="66.15" width="3.9" height="3.9"/><rect x="608.65" y="80.85" width="3.9" height="3.9"/><rect x="610.25" y="94.45" width="3.9" height="3.9"/><rect x="611.45" y="105.75" width="3.9" height="3.9"/><rect x="615.35" y="115.05" width="3.9" height="3.9"/><rect x="618.55" y="122.25" width="3.9" height="3.9"/><rect x="622.25" y="125.45" width="3.9" height="3.9"/><rect x="625.65" y="129.15" width="3.9" height="3.9"/><rect x="629.45" y="131.65" width="3.9" height="3.9"/><rect x="632.85" y="134.25" width="3.9" height="3.9"/><rect x="636.45" y="136.15" width="3.9" height="3.9"/><rect x="639.85" y="137.15" width="3.9" height="3.9"/><rect x="643.25" y="137.65" width="3.9" height="3.9"/><rect x="646.85" y="138.05" width="3.9" height="3.9"/><rect x="650.25" y="138.52" width="3.9" height="3.9"/><rect x="653.79" y="138.52" width="3.9" height="3.9"/><rect x="657.33" y="138.52" width="3.9" height="3.9"/><rect x="660.87" y="138.52" width="3.9" height="3.9"/><rect x="664.41" y="138.52" width="3.9" height="3.9"/><rect x="667.95" y="138.52" width="3.9" height="3.9"/><rect x="671.49" y="138.52" width="3.9" height="3.9"/></g>
<path d="M117.9,12.4H137.5" stroke="#5a5a5a" stroke-width="0.9"/><circle cx="127.6" cy="12.4" r="2.1" fill="#f5aeae" stroke="#c98c8c" stroke-width="0.5"/><path d="M117.9,22.7H137.5" stroke="#b4b4b4" stroke-width="1.7"/><rect x="125.6" y="20.7" width="4" height="4" fill="#98f3f5" stroke="#7a8c8c" stroke-width="0.5"/><path d="M117.9,33.1H137.5" stroke="#333" stroke-width="0.9"/><path d="M127.6,30.5L130,34.6L125.2,34.6Z" fill="#f8f0a8" stroke="#777" stroke-width="0.5"/><text x="143.3" y="15.6" class="lg" textLength="72.6" lengthAdjust="spacingAndGlyphs">Before optimization</text><text x="143.3" y="25.9" class="lg" textLength="66.9" lengthAdjust="spacingAndGlyphs">After optimization</text><text x="143.3" y="36.0" class="lg" textLength="65.8" lengthAdjust="spacingAndGlyphs">Observation value</text><path d="M481.9,10.4H503.4" stroke="#888" stroke-width="1"/><rect x="490.5" y="8.4" width="4" height="4" fill="#98f3f5" stroke="#3a5555" stroke-width="0.55"/><text x="510.2" y="14.1" class="lg" textLength="67.8" lengthAdjust="spacingAndGlyphs">After optimization</text>
</svg>
</body></html>
